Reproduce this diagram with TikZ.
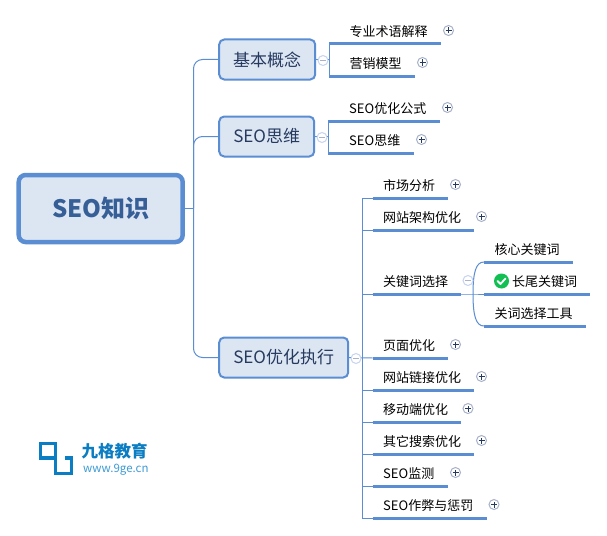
\documentclass[tikz,border=0pt]{standalone}
\usepackage{fontspec}
\setmainfont{Noto Sans CJK SC}
\definecolor{linkblue}{HTML}{5B8DD3}
\definecolor{boxfill}{HTML}{DCE6F3}
\definecolor{roottext}{HTML}{365F97}
\definecolor{branchtext}{HTML}{26395E}
\definecolor{plusring}{HTML}{A8B2C8}
\definecolor{minusring}{HTML}{C6D4EF}
\definecolor{logoblue}{HTML}{0B7DC3}
\definecolor{logotext}{HTML}{3F9BD6}
\definecolor{checkgreen}{HTML}{12BF52}
\tikzset{
  x=1pt,y=-1pt,
  link/.style={draw=linkblue,line width=1pt},
  uline/.style={draw=linkblue,line width=3pt},
  rootbox/.style={draw=linkblue,line width=4.5pt,fill=boxfill,rounded corners=7pt,text=roottext,font=\fontsize{24}{28}\selectfont\bfseries,inner sep=0pt},
  branchbox/.style={draw=linkblue,line width=2pt,fill=boxfill,rounded corners=5pt,text=branchtext,font=\fontsize{17}{20}\selectfont,inner sep=0pt},
  leaftext/.style={anchor=west,inner sep=0pt,text=black,font=\fontsize{13}{15}\selectfont},
  plusdot/.style={circle,draw=plusring,line width=1pt,fill=white,minimum size=10pt,inner sep=0pt,
    path picture={\draw[branchtext,line width=.9pt] (path picture bounding box.center) +(-3pt,0pt) -- +(3pt,0pt) (path picture bounding box.center) +(0pt,-3pt) -- +(0pt,3pt);}},
  minusdot/.style={circle,draw=minusring,line width=1pt,fill=white,minimum size=10pt,inner sep=0pt,
    path picture={\draw[plusring,line width=.9pt] (path picture bounding box.center) +(-3pt,0pt) -- +(3pt,0pt);}},
}
% #1 name, #2 underline left, #3 underline right, #4 underline y, #5 text x, #6 text
\newcommand{\leafnode}[6]{%
  \coordinate (#1L) at (#2,#4);
  \coordinate (#1R) at (#3,#4);
  \node[leaftext] (#1) at (#5-0.5,#4-12.7) {#6};
  \draw[uline] (#1L) -- (#1R);
}
\begin{document}
\begin{tikzpicture}
\useasboundingbox[fill=white] (0,0) rectangle (607,535);

% main boxes
\node[rootbox,minimum width=164pt,minimum height=67pt] (root) at (100.7,208.5) {SEO知识};
\node[branchbox,minimum width=96pt,minimum height=40pt] (b1) at (267.2,59.5) {\raisebox{-.6pt}{基本概念}};
\node[branchbox,minimum width=95pt,minimum height=40pt] (b2) at (266.7,136.5) {\raisebox{-.6pt}{SEO思维}};
\node[branchbox,minimum width=129pt,minimum height=40pt] (b3) at (283.7,357.5) {\raisebox{-.6pt}{SEO优化执行}};

% leaves
\leafnode{a1}{329}{441}{44}{350}{专业术语解释}
\leafnode{a2}{329}{414.5}{76}{350}{营销模型}
\leafnode{c1}{328}{439.5}{121}{349.5}{SEO优化公式}
\leafnode{c2}{328}{413.5}{153}{349.5}{SEO思维}
\leafnode{d1}{372.5}{447.5}{198}{383.5}{市场分析}
\leafnode{d2}{372.5}{473.5}{230}{383.5}{网站架构优化}
\leafnode{d3}{372.5}{460.5}{294}{383.5}{关键词选择}
\leafnode{d4}{372.5}{447.5}{358}{383.5}{页面优化}
\leafnode{d5}{372.5}{473.5}{390}{383.5}{网站链接优化}
\leafnode{d6}{372.5}{460.5}{422}{383.5}{移动端优化}
\leafnode{d7}{372.5}{473.5}{454}{383.5}{其它搜索优化}
\leafnode{d8}{372.5}{447.5}{486}{383.5}{SEO监测}
\leafnode{d9}{372.5}{486.5}{518}{383.5}{SEO作弊与惩罚}
\leafnode{e1}{484}{572.5}{262}{495}{核心关键词}
\leafnode{e2}{484}{589.5}{294}{512.5}{长尾关键词}
\leafnode{e3}{484}{585.5}{326}{495}{关词选择工具}

% helper junctions
\coordinate (trunkA) at (193.5,208);
\coordinate (trunkB) at (362.5,358);
\coordinate (d3fork) at (473,294);

% level one connectors
\draw[link] (root.east |- trunkA) -- (trunkA);
\draw[link,rounded corners=9pt] (trunkA) |- (b1.west);
\draw[link,rounded corners=9pt] (trunkA) |- (b2.west);
\draw[link,rounded corners=9pt] (trunkA) |- (b3.west);

% level two connectors
\draw[link] (b1.east) -- (329,59.5);
\draw[link] (a1L) -- (a2L);
\draw[link] (b2.east) -- (328,136.5);
\draw[link] (c1L) -- (c2L);
\draw[link] (b3.east) -- (d4L);
\draw[link] (d1L) -- (362.5,198) -- (362.5,518) -- (d9L);
\foreach \n in {d2,d3,d5,d6,d7,d8} \draw[link] (\n L -| trunkB) -- (\n L);

% fork
\draw[link] (d3R) -- (d3fork) -- (e2L);
\draw[link] (d3fork) .. controls (473,272) and (476,262) .. (e1L);
\draw[link] (d3fork) .. controls (473,316) and (476,326) .. (e3L);

% collapse markers
\node[minusdot] (m1) at (323,60.5) {};
\node[minusdot] (m2) at (322,137.5) {};
\node[minusdot] (m3) at (356,358.5) {};
\node[minusdot] (m4) at (468,280.5) {};
\node[plusdot] (p1) at (448.5,30.5) {};
\node[plusdot] (p2) at (422.5,62.5) {};
\node[plusdot] (p3) at (447.5,107.5) {};
\node[plusdot] (p4) at (421.5,139.5) {};
\node[plusdot] (p5) at (455.5,184.5) {};
\node[plusdot] (p6) at (481.5,216.5) {};
\node[plusdot] (p7) at (455.5,344.5) {};
\node[plusdot] (p8) at (481.5,376.5) {};
\node[plusdot] (p9) at (468,408.5) {};
\node[plusdot] (p10) at (481.5,440.5) {};
\node[plusdot] (p11) at (455.5,472.5) {};
\node[plusdot] (p12) at (494,504.5) {};

% check icon
\fill[checkgreen] (501.5,281) circle (7.5);
\draw[white,line width=1.8pt,line cap=round,line join=round] (497.5,281) -- (500.5,284) -- (505.5,278.5);

% logo
\draw[logoblue,line width=3.2pt,line join=miter] (40.5,443.5) rectangle (55.5,458);
\draw[logoblue,line width=3.2pt,line join=miter] (55.5,458) -- (55.5,473.5) -- (71.5,473.5) -- (71.5,458) -- (65,458);
\node[anchor=west,inner sep=0pt,text=logoblue,font=\fontsize{16.5}{18}\selectfont\bfseries] (logoname) at (81.5,451) {九格教育};
\node[anchor=west,inner sep=0pt,text=logotext,font=\fontsize{11.5}{13}\selectfont] (logourl) at (83,470) {www.9ge.cn};
\end{tikzpicture}
\end{document}
